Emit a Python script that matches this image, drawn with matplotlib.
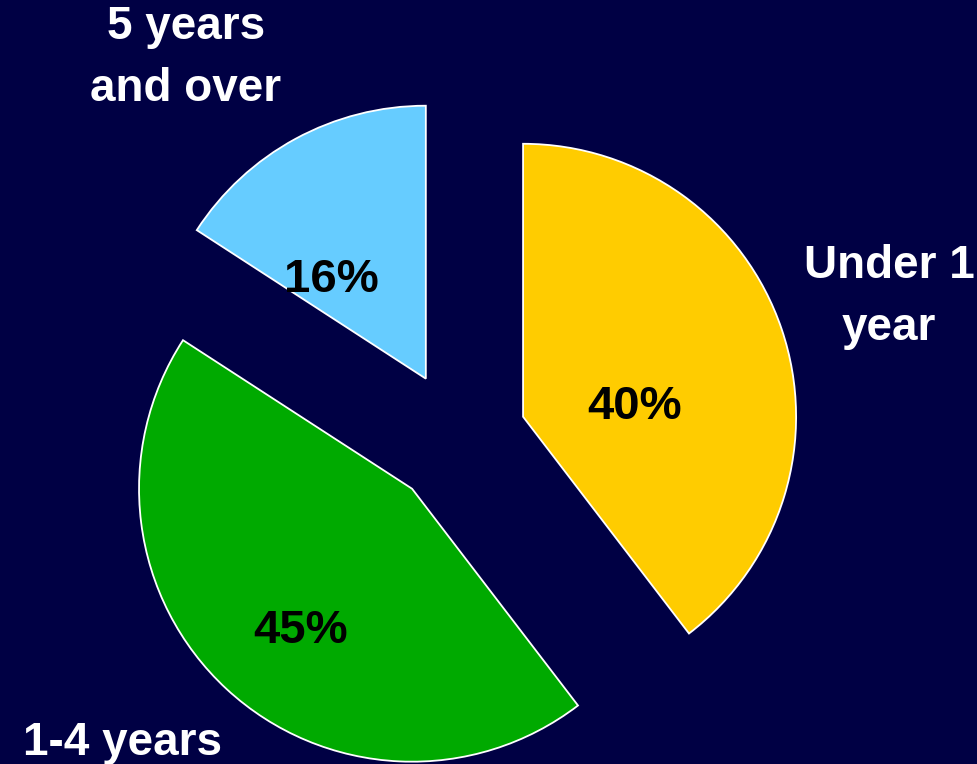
import matplotlib
matplotlib.use("Agg")
import matplotlib.pyplot as plt

# share of cases by duration
categories = ["Under 1\nyear", "1-4 years", "5 years\nand over"]
shares = [40, 45, 16]
colors = ["#FFCC00", "#00AA00", "#66CCFF"]

# where the texts sit (figure fractions, baseline of last line)
name_pos = [(0.909, 0.555), (0.125, 0.0118), (0.190, 0.868)]
pct_pos = [(0.649, 0.4516), (0.307, 0.1584), (0.339, 0.6178)]

bg = "#000044"
plt.rcParams["font.family"] = ["Liberation Sans", "DejaVu Sans"]

fig = plt.figure(figsize=(9.78, 7.64), dpi=100, facecolor=bg)
ax = fig.add_axes([0, 0, 1, 1])
ax.set_facecolor(bg)

ax.pie(
    shares,
    colors=colors,
    startangle=90,
    counterclock=False,
    explode=[0.25] * len(shares),
    radius=1,
    wedgeprops=dict(edgecolor="white", linewidth=1.3),
)
ax.set_aspect("auto")
ax.set_xlim(-1.679, 1.903)
ax.set_ylim(-1.192, 1.607)
ax.axis("off")

for name, (x, y) in zip(categories, name_pos):
    fig.text(x, y, name, color="white", fontsize=33, fontweight="bold",
             ha="center", va="baseline", linespacing=1.53, multialignment="center")

for val, (x, y) in zip(shares, pct_pos):
    fig.text(x, y, f"{val}%", color="black", fontsize=34, fontweight="bold",
             ha="center", va="baseline")

fig.savefig("out.png", dpi=100, facecolor=bg)
